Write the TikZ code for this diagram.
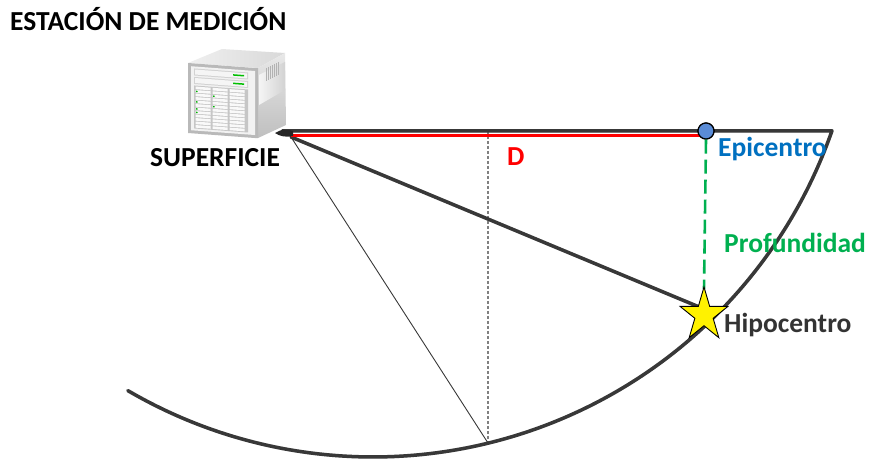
\documentclass[tikz,border=0pt]{standalone}
\usepackage{fontspec}
\setmainfont{Carlito}
\definecolor{linegray}{RGB}{56,56,56}
\definecolor{epiblue}{RGB}{0,112,192}
\definecolor{depthgreen}{RGB}{0,176,80}
\definecolor{dotblue}{RGB}{90,140,215}
\definecolor{hypogray}{RGB}{51,51,51}
\begin{document}
\begin{tikzpicture}[x=1pt,y=-1pt,
  lbl/.style={font=\fontsize{27.5}{32}\selectfont\bfseries, inner sep=0pt, anchor=base west},
  thickline/.style={line width=3.5pt, draw=linegray, line cap=round, line join=round},
  shadowline/.style={line width=3.5pt, draw=black!12, line cap=round, line join=round},
  thinline/.style={line width=0.9pt, draw=linegray},
  axisline/.style={line width=1.4pt, draw=gray, dash pattern=on 3pt off 2pt},
  depthline/.style={line width=2.6pt, draw=depthgreen, dash pattern=on 14pt off 6pt},
  distline/.style={line width=3.5pt, draw=red},
  starfill/.style={fill=yellow, draw=black, line width=0.9pt, line join=miter},
]
\useasboundingbox (0,0) rectangle (870,462);

% key points
\coordinate (center) at (373,-29);
\coordinate (station) at (291,137);
\coordinate (west) at (282,131);
\coordinate (east) at (832,131);
\coordinate (mid) at (488,131);
\coordinate (bottom) at (488,443);
\coordinate (hypo) at (704,309);
\coordinate (startop) at (704,289);

% surface and crust arc, with a soft shadow
\draw[shadowline, shift={(1.5,2.5)}] (center) ++(120.3:486) arc[start angle=120.3, end angle=19.2, radius=486] -- (west);
\draw[shadowline, shift={(1.5,2.5)}] (station) -- (hypo);

% thin guides
\draw[axisline] (mid) -- (bottom);
\draw[thinline] (station) -- (bottom);

\draw[thickline] (center) ++(120.3:486) arc[start angle=120.3, end angle=19.2, radius=486] -- (west);
\draw[thickline] (station) -- (hypo);

% epicentral distance
\node[circle, fill=dotblue, draw=black, line width=1.2pt, minimum size=16pt, inner sep=0pt] (epi) at (706,131) {};
\draw[distline] (291,135.5) -- (epi.center |- 0,135.5) coordinate (dend);
\node[circle, fill=dotblue, draw=black, line width=1.2pt, minimum size=16pt, inner sep=0pt] at (epi) {};

% depth
\draw[depthline] (epi.south) -- (startop);

% hypocentre star
\draw[starfill, shift={(hypo)}, shift={(0,6)}, xscale=0.9]
  (-90:28) -- (-54:10.7) -- (-18:28) -- (18:10.7) -- (54:28) -- (90:10.7)
  -- (126:28) -- (162:10.7) -- (198:28) -- (234:10.7) -- cycle;

% server tower
\fill[black!85] (275,133) .. controls (281,129) and (288,129) .. (293,131)
  -- (293,136) .. controls (286,137.5) and (280,136.5) .. cycle;
\shade[left color=gray!12, right color=gray!30] (188,63) -- (258,68) -- (285,53) -- (222,49) -- cycle;
\shade[top color=gray!18, bottom color=gray!50] (258,68) -- (285,53) -- (286,125) -- (258,138) -- cycle;
\shade[left color=white!60!gray!20, right color=gray!35] (259,75) -- (285,62) -- (285,90) -- (259,105) -- cycle;
\foreach \v in {0,...,6} {
  \draw[gray!60, line width=0.8pt] (266+2*\v,68-1.0*\v) -- (266+2*\v,81-1.0*\v);
}
\begin{scope}[shift={(188,63)}, yslant=-0.075]
  \fill[gray!55] (0,0) rectangle (70,70);
  \fill[gray!10] (3,3) rectangle (67,67);
  \fill[gray!35] (6,5) rectangle (60,12);
  \fill[gray!35] (6,13.5) rectangle (60,20.5);
  \fill[gray!8] (7,6) rectangle (59,11);
  \fill[gray!8] (7,14.5) rectangle (59,19.5);
  \fill[green!75!black] (45,7.8) rectangle (56,9.3);
  \fill[green!75!black] (45,16.2) rectangle (56,17.7);
  \fill[gray!45] (6,22) rectangle (60,65);
  \foreach \c in {0,1,2} {
    \foreach \r in {0,...,11} {
      \fill[gray!5] (7.5+17*\c,23+3.5*\r) rectangle (22.5+17*\c,25.6+3.5*\r);
    }
  }
  \foreach \r in {1,4,6,7} {
    \fill[green!70!black] (8,23.6+3.5*\r) rectangle (9.5,25+3.5*\r);
  }
  \foreach \r in {2,5} {
    \fill[green!70!black] (25,23.6+3.5*\r) rectangle (26.5,25+3.5*\r);
  }
\end{scope}

% labels
\node[lbl] (title) at (10,31) {ESTACIÓN DE MEDICIÓN};
\node[lbl] (surface) at (150,167) {SUPERFICIE};
\node[lbl, text=red] (dist) at (507,166) {D};
\node[lbl, text=epiblue] (epilbl) at (718,157) {Epicentro};
\node[lbl, text=depthgreen] (depthlbl) at (724,253) {Profundidad};
\node[lbl, text=hypogray] (hypolbl) at (724,333) {Hipocentro};
\end{tikzpicture}
\end{document}
